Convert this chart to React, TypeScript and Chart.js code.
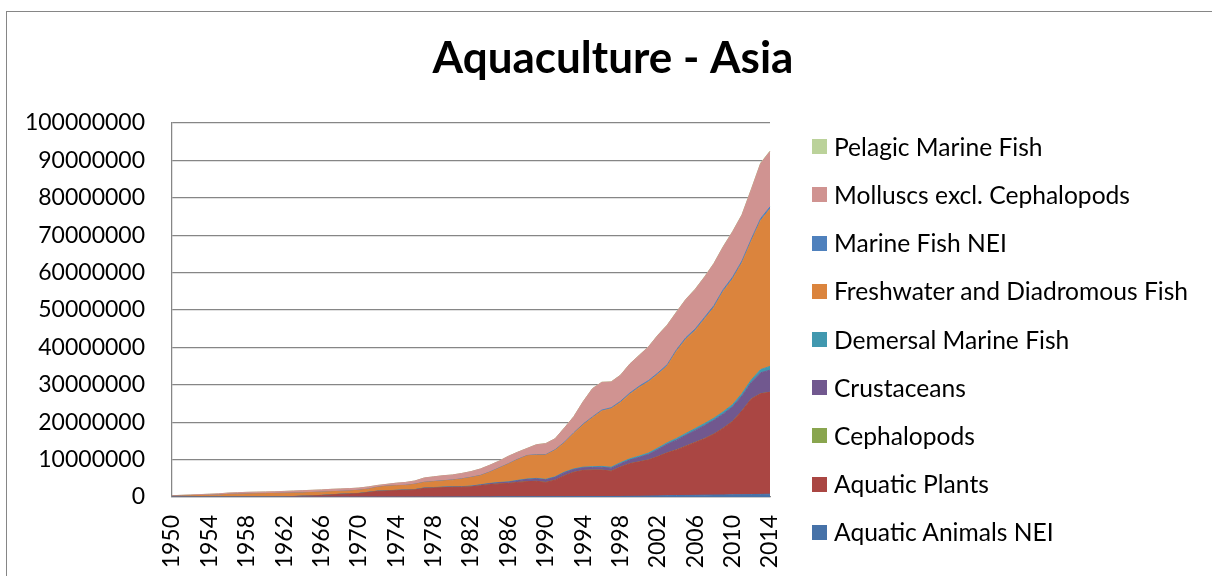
import React, { useEffect, useRef } from "react";
import { Chart, registerables } from "chart.js";

Chart.register(...registerables);

const TITLE = "Aquaculture - Asia";

const years = [
  "1950", "1951", "1952", "1953", "1954", "1955", "1956", "1957", "1958", "1959",
  "1960", "1961", "1962", "1963", "1964", "1965", "1966", "1967", "1968", "1969",
  "1970", "1971", "1972", "1973", "1974", "1975", "1976", "1977", "1978", "1979",
  "1980", "1981", "1982", "1983", "1984", "1985", "1986", "1987", "1988", "1989",
  "1990", "1991", "1992", "1993", "1994", "1995", "1996", "1997", "1998", "1999",
  "2000", "2001", "2002", "2003", "2004", "2005", "2006", "2007", "2008", "2009",
  "2010", "2011", "2012", "2013", "2014",
];

const aquaticAnimalsNEI = [
  0, 0, 0, 0, 0, 0, 0, 0, 0, 0,
  0, 0, 0, 0, 0, 0, 0, 0, 0, 0,
  0, 0, 0, 0, 0, 0, 0, 0, 0, 0,
  15000, 18000, 22000, 26000, 30000, 38000, 45000, 52000, 58000, 63000,
  70000, 78000, 86000, 95000, 104000, 112000, 121000, 130000, 148000, 172000,
  200000, 250000, 300000, 350000, 400000, 420000, 450000, 500000, 520000, 550000,
  600000, 620000, 650000, 700000, 750000,
];

const aquaticPlants = [
  0, 0, 0, 0, 0, 0, 0, 0, 0, 0,
  0, 0, 0, 100000, 200000, 300000, 400000, 550000, 700000, 800000,
  900000, 1200000, 1500000, 1600000, 1700000, 1800000, 1900000, 2300000, 2400000, 2500000,
  2585000, 2582000, 2678000, 2974000, 3270000, 3462000, 3555000, 3848000, 4042000, 4137000,
  3830000, 4422000, 5614000, 6505000, 6996000, 7088000, 7079000, 6770000, 7852000, 8728000,
  9200000, 9650000, 10500000, 11450000, 12200000, 13180000, 14150000, 15100000, 16280000, 17850000,
  19600000, 22380000, 25550000, 26900000, 27250000,
];

const cephalopods = [
  0, 0, 0, 0, 0, 0, 0, 0, 0, 0,
  0, 0, 0, 0, 0, 0, 0, 0, 0, 0,
  0, 0, 0, 0, 0, 0, 0, 0, 0, 0,
  0, 0, 0, 0, 0, 0, 0, 0, 0, 0,
  500, 600, 800, 1000, 1200, 1500, 1800, 2000, 2500, 3000,
  3500, 4000, 5000, 6000, 7000, 8000, 9000, 10000, 11000, 12000,
  13000, 14000, 15000, 16000, 17000,
];

const crustaceans = [
  10000, 10000, 11000, 12000, 13000, 15000, 16000, 17000, 18000, 19000,
  20000, 21000, 22000, 24000, 26000, 28000, 30000, 33000, 36000, 40000,
  45000, 50000, 55000, 60000, 65000, 70000, 75000, 82000, 90000, 98000,
  105000, 120000, 150000, 200000, 250000, 300000, 350000, 450000, 600000, 650000,
  700000, 750000, 800000, 750000, 700000, 700000, 750000, 800000, 900000, 1000000,
  1200000, 1500000, 1900000, 2300000, 2600000, 2900000, 3200000, 3500000, 3700000, 3800000,
  3900000, 4000000, 4400000, 5600000, 5900000,
];

const demersalMarineFish = [
  5000, 5000, 6000, 6000, 7000, 7000, 8000, 8000, 9000, 9000,
  10000, 10000, 11000, 12000, 13000, 14000, 15000, 16000, 18000, 20000,
  22000, 24000, 26000, 28000, 30000, 33000, 36000, 40000, 45000, 50000,
  55000, 60000, 65000, 70000, 75000, 80000, 90000, 100000, 110000, 120000,
  130000, 140000, 150000, 160000, 180000, 200000, 230000, 250000, 280000, 300000,
  330000, 350000, 380000, 400000, 450000, 480000, 500000, 530000, 560000, 580000,
  600000, 650000, 700000, 850000, 1000000,
];

const freshwaterDiadromousFish = [
  185000, 255000, 313000, 382000, 430000, 478000, 676000, 725000, 773000, 822000,
  870000, 919000, 967000, 914000, 861000, 858000, 855000, 801000, 746000, 740000,
  833000, 826000, 1019000, 1212000, 1205000, 1197000, 1389000, 1478000, 1565000, 1652000,
  1740000, 2020000, 2285000, 2430000, 2975000, 3820000, 4760000, 5550000, 6190000, 6230000,
  6470000, 7109000, 7849000, 9489000, 11319000, 13099000, 14818000, 15648000, 16118000, 17297000,
  18367000, 19046000, 19715000, 20494000, 23343000, 25212000, 26191000, 27960000, 29629000, 32208000,
  33587000, 34936000, 37085000, 39834000, 42083000,
];

const marineFishNEI = [
  5000, 5000, 6000, 6000, 7000, 7000, 8000, 8000, 9000, 9000,
  10000, 10000, 11000, 12000, 13000, 14000, 15000, 16000, 18000, 20000,
  22000, 25000, 28000, 31000, 34000, 37000, 40000, 45000, 50000, 55000,
  60000, 65000, 70000, 75000, 80000, 85000, 90000, 95000, 100000, 110000,
  120000, 140000, 160000, 180000, 200000, 220000, 240000, 260000, 280000, 300000,
  320000, 340000, 360000, 380000, 400000, 420000, 440000, 450000, 470000, 480000,
  500000, 520000, 540000, 560000, 580000,
];

const molluscsExclCephalopods = [
  143000, 173000, 212000, 241000, 290000, 340000, 339000, 388000, 437000, 437000,
  436000, 435000, 484000, 533000, 582000, 580000, 579000, 628000, 626000, 623000,
  571000, 567000, 464000, 460000, 657000, 753000, 849000, 1143000, 1237000, 1331000,
  1325000, 1419000, 1513000, 1707000, 1800000, 1793000, 1986000, 1879000, 1872000, 2660000,
  2948000, 2926000, 3804000, 4282000, 5960000, 7536000, 7412000, 6888000, 6964000, 7740000,
  8216000, 8992000, 10068000, 10544000, 10020000, 10196000, 10572000, 10758000, 11234000, 11420000,
  12096000, 12270000, 13244000, 14718000, 14792000,
];

const pelagicMarineFish = [
  2000, 2000, 2000, 3000, 3000, 3000, 3000, 4000, 4000, 4000,
  4000, 5000, 5000, 5000, 5000, 6000, 6000, 6000, 6000, 7000,
  7000, 8000, 8000, 9000, 9000, 10000, 11000, 12000, 13000, 14000,
  15000, 16000, 17000, 18000, 20000, 22000, 24000, 26000, 28000, 30000,
  32000, 34000, 36000, 38000, 40000, 44000, 48000, 52000, 56000, 60000,
  64000, 68000, 72000, 76000, 80000, 84000, 88000, 92000, 96000, 100000,
  104000, 110000, 116000, 122000, 128000,
];

const yTicks = [0, 10000000, 20000000, 30000000, 40000000, 50000000, 60000000, 70000000, 80000000, 90000000, 100000000];

const series = [
  { label: "Aquatic Animals NEI", data: aquaticAnimalsNEI, color: "#4672A8" },
  { label: "Aquatic Plants", data: aquaticPlants, color: "#AA4643" },
  { label: "Cephalopods", data: cephalopods, color: "#89A54E" },
  { label: "Crustaceans", data: crustaceans, color: "#71588F" },
  { label: "Demersal Marine Fish", data: demersalMarineFish, color: "#4198AF" },
  { label: "Freshwater and Diadromous Fish", data: freshwaterDiadromousFish, color: "#DB843D" },
  { label: "Marine Fish NEI", data: marineFishNEI, color: "#4F81BD" },
  { label: "Molluscs excl. Cephalopods", data: molluscsExclCephalopods, color: "#D09391" },
  { label: "Pelagic Marine Fish", data: pelagicMarineFish, color: "#BBD29A" },
];

const FONT = "Lato, 'Open Sans', sans-serif";

const titlePlugin = {
  id: "fixedTitle",
  afterDraw(chart: any) {
    const ctx = chart.ctx;
    ctx.save();
    ctx.font = `bold 44px ${FONT}`;
    ctx.fillStyle = "#000";
    ctx.textAlign = "center";
    ctx.textBaseline = "alphabetic";
    ctx.fillText(TITLE, 613, 73);
    ctx.restore();
  },
};

export default function App() {
  const canvasRef = useRef<HTMLCanvasElement>(null);

  useEffect(() => {
    const canvas = canvasRef.current;
    if (!canvas) return;
    const chart = new Chart(canvas, {
      type: "line",
      data: {
        labels: years,
        datasets: series.map((s, i) => ({
          label: s.label,
          data: s.data,
          backgroundColor: s.color,
          borderColor: s.color,
          borderWidth: 1,
          fill: i === 0 ? "origin" : "-1",
          pointRadius: 0,
          pointHoverRadius: 0,
          tension: 0,
        })),
      },
      plugins: [titlePlugin],
      options: {
        responsive: false,
        maintainAspectRatio: false,
        animation: false,
        events: [],
        layout: { padding: { left: 0, top: 123, right: 442, bottom: 0 } },
        plugins: {
          legend: { display: false },
          tooltip: { enabled: false },
          title: { display: false },
        },
        scales: {
          x: {
            type: "category",
            offset: false,
            grid: { display: false, drawTicks: false },
            border: { display: true, color: "#868686", width: 1.25 },
            ticks: {
              autoSkip: false,
              minRotation: 90,
              maxRotation: 90,
              padding: 18,
              color: "#000",
              font: { family: FONT, size: 23 },
              callback: (_v: any, i: number) => (i % 4 === 0 ? years[i] : null),
            },
            afterFit: (s: any) => {
              s.height = 79;
            },
          },
          y: {
            stacked: true,
            min: yTicks[0],
            max: yTicks[yTicks.length - 1],
            grid: { color: "#868686", lineWidth: 1.25, drawTicks: false },
            border: { display: true, color: "#868686", width: 1.25 },
            ticks: {
              stepSize: yTicks[1] - yTicks[0],
              padding: 27,
              color: "#000",
              font: { family: FONT, size: 23 },
              callback: (v: any) => String(v),
            },
            afterFit: (s: any) => {
              s.width = 172;
            },
          },
        },
      },
    });
    return () => chart.destroy();
  }, []);

  const legendItems = [...series].reverse();

  return (
    <div
      style={{
        position: "fixed",
        left: 0,
        top: 0,
        width: 1212,
        height: 576,
        background: "#fff",
        overflow: "hidden",
      }}
    >
      <div
        style={{
          position: "absolute",
          left: 6,
          top: 11,
          width: 1300,
          height: 700,
          border: "1px solid #868686",
          boxSizing: "border-box",
        }}
      />
      <canvas
        ref={canvasRef}
        width={1212}
        height={576}
        style={{ position: "absolute", left: 0, top: 0, width: 1212, height: 576 }}
      />
      {legendItems.map((s, i) => (
        <div
          key={s.label}
          style={{
            position: "absolute",
            left: 812,
            top: 146.7 + 48.2 * i - 12,
            height: 24,
            display: "flex",
            alignItems: "center",
            whiteSpace: "nowrap",
            fontFamily: FONT,
            fontSize: 24.6,
            color: "#000",
          }}
        >
          <span
            style={{
              display: "inline-block",
              width: 15,
              height: 15,
              background: s.color,
              marginRight: 7,
            }}
          />
          <span style={{ lineHeight: "24px" }}>{s.label}</span>
        </div>
      ))}
    </div>
  );
}
